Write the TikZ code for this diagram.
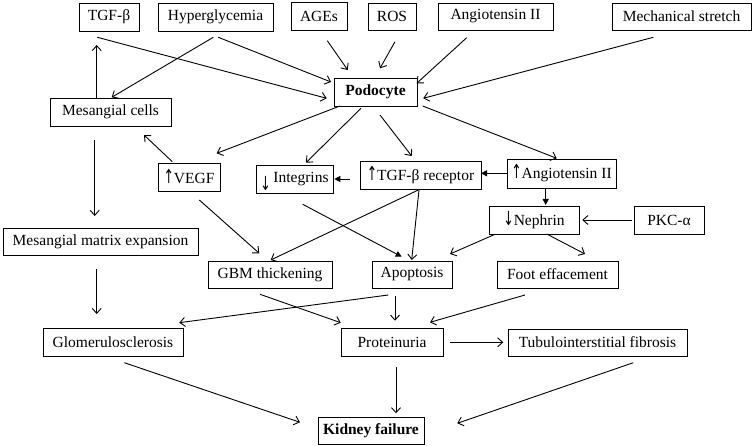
\documentclass[tikz,border=0pt]{standalone}
\usepackage{fontspec}
\setmainfont{Liberation Serif}
\newfontfamily\arwfont{DejaVu Sans}
\usetikzlibrary{arrows.meta}
\newcommand{\up}{{\arwfont\scalebox{0.8}[1.25]{↑}}}
\newcommand{\dn}{{\arwfont\scalebox{0.8}[1.25]{↓}}}
\begin{document}
\begin{tikzpicture}[x=1pt,y=-1pt,
  box/.style={draw,line width=0.9pt,inner sep=0pt,font=\fontsize{15.5}{18}\selectfont},
  arr/.style={line width=0.9pt,-{Straight Barb[length=5pt,width=9pt,line width=0.9pt]}},
  farr/.style={line width=0.9pt,-{Triangle[length=6pt,width=6pt]}}]
\useasboundingbox (0,0) rectangle (753,446);
\newcommand{\bx}[6]{\node[box,minimum width=#4pt,minimum height=#5pt] (#1) at (#2,#3) {#6};}
\bx{tgf}{109}{17}{60}{28}{TGF-β}
\bx{hyp}{215.5}{17}{115}{28}{Hyperglycemia}
\bx{ages}{319}{16}{56}{28}{AGEs}
\bx{ros}{392}{16.5}{48}{27}{ROS}
\bx{ang}{495.5}{16.5}{115}{27}{Angiotensin II}
\bx{mech}{681.5}{16.5}{139}{27}{Mechanical stretch}
\bx{pod}{375.5}{92}{83}{28}{\textbf{Podocyte}}
\bx{mes}{110.5}{112}{121}{28}{Mesangial cells}
\bx{vegf}{189}{177}{62}{28}{\up VEGF}
\bx{integ}{294.5}{179}{77}{28}{\raisebox{-8pt}[0pt][0pt]{\dn}\,Integrins}
\bx{tgfr}{420.5}{175}{121}{28}{\up TGF-β receptor}
\bx{ang2}{561.5}{173.5}{109}{29}{\up Angiotensin II}
\bx{mme}{100.5}{241.5}{195}{27}{Mesangial matrix expansion}
\bx{gbm}{270}{274.5}{124}{27}{GBM thickening}
\bx{apo}{412}{274.5}{80}{27}{Apoptosis}
\bx{foot}{557.5}{274.5}{121}{27}{Foot effacement}
\bx{neph}{534}{220}{90}{28}{\dn Nephrin}
\bx{pkc}{669}{220}{70}{28}{PKC-α}
\bx{glom}{113}{342}{140}{28}{Glomerulosclerosis}
\bx{prot}{392}{342}{102}{28}{Proteinuria}
\bx{tub}{597.5}{342.5}{179}{27}{Tubulointerstitial fibrosis}
\bx{kid}{371}{430.5}{106}{27}{\textbf{Kidney failure}}
\newcommand{\cn}[7][arr]{\draw[#1] ([shift={(#3,#4)}]#2.center) -- ([shift={(#6,#7)}]#5.center);}
\cn{tgf}{-11.7}{20.3}{pod}{-48.8}{6.3}
\cn{hyp}{2.8}{20.3}{pod}{-44.5}{-10}
\cn{hyp}{-2.2}{20.3}{mes}{1.2}{-14.7}
\cn{mes}{-13.8}{-14.3}{tgf}{-12.3}{28}
\cn{ages}{8.3}{24.7}{pod}{-27.8}{-22}
\cn{ros}{3}{25.2}{pod}{4.5}{-23.7}
\cn{ang}{-28.8}{21.2}{pod}{41.2}{-8.7}
\cn{mech}{-28.2}{20.8}{pod}{47.8}{6.3}
\cn{pod}{-35.5}{14}{vegf}{27.7}{-23.7}
\cn{pod}{-14.5}{16.3}{integ}{11.5}{-16.3}
\cn{pod}{4.5}{23}{tgfr}{-8.8}{-19}
\cn{pod}{47.2}{14}{ang2}{-4.8}{-15.2}
\cn{vegf}{-16.7}{-15.3}{mes}{33.5}{23}
\cn[farr]{tgfr}{-70.5}{4}{integ}{39.8}{0}
\cn[farr]{ang2}{-54.8}{-0.2}{tgfr}{60.5}{-1.7}
\cn[farr]{ang2}{-15.8}{14.8}{neph}{11.7}{-15}
\cn{mes}{-15.8}{28}{mme}{-5.8}{-25.5}
\cn{vegf}{10.3}{23}{gbm}{-10.7}{-21.2}
\cn{tgfr}{-2.2}{15}{gbm}{0.7}{-14.5}
\cn{tgfr}{-1.5}{15}{apo}{-0.3}{-14.5}
\cn[farr]{integ}{8.2}{25.3}{apo}{-10.3}{-17.8}
\cn{neph}{-39}{14.3}{apo}{38}{-20.5}
\cn{neph}{12.7}{14}{foot}{27.5}{-20.5}
\cn{pkc}{-37.3}{0}{neph}{48.3}{0}
\cn{mme}{-3.8}{27.8}{glom}{-16.3}{-28}
\cn{apo}{-23.7}{20.5}{glom}{66.3}{-19.3}
\cn{gbm}{-10}{19.8}{prot}{-51.3}{-19.3}
\cn{apo}{-17}{21.5}{prot}{3}{-21.3}
\cn{foot}{-32.5}{20.5}{prot}{38}{-19.7}
\cn{prot}{58}{0.3}{tub}{-94.2}{-0.2}
\cn{prot}{4}{25.3}{kid}{25}{-17.2}
\cn{glom}{11.3}{20.7}{kid}{-71}{-8.2}
\cn{tub}{35.8}{20.2}{kid}{86.3}{-7.2}
\end{tikzpicture}
\end{document}
